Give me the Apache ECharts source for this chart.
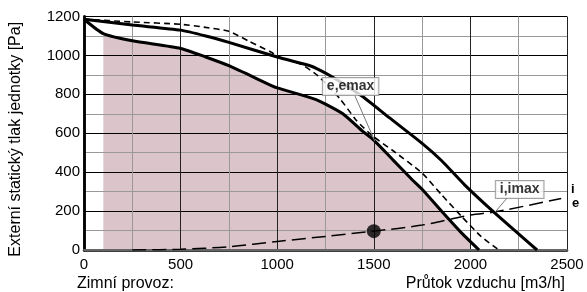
<!DOCTYPE html>
<html>
<head>
<meta charset="utf-8">
<script src="https://cdn.jsdelivr.net/npm/echarts@6/dist/echarts.min.js"></script>
<style>
  html, body { margin: 0; padding: 0; background: #fff; }
  #chart { width: 587px; height: 292px; }
</style>
</head>
<body>
<div id="chart"></div>
<script>
// osa x: prutok [m3/h], osa y: tlak [Pa]
var xTicks = [0, 500, 1000, 1500, 2000, 2500];
var yTicks = [0, 200, 400, 600, 800, 1000, 1200];

// spodni plna krivka (hranice oblasti)
var curveLow = [[0,1186],[100,1112],[250,1075],[500,1036],[630,992],[750,947],[970,845],[1000,833],
  [1190,777],[1250,750],[1340,700],[1440,612],[1500,565],[1600,462],[1700,360],[1750,312],
  [1850,200],[1950,92],[2045,0]];
// horni plna krivka
var curveHigh = [[0,1186],[250,1156],[500,1130],[630,1100],[750,1067],[1000,992],[1170,947],
  [1210,930],[1290,887],[1440,790],[1580,680],[1750,548],[1850,460],[1970,335],[2120,196],[2345,0]];
// carkovana krivka
var curveDash = [[0,1186],[250,1172],[500,1160],[630,1144],[750,1124],[850,1075],[970,1016],
  [1000,995],[1120,956],[1210,896],[1325,777],[1410,666],[1495,585],[1600,510],[1750,395],
  [1850,285],[1955,172],[2055,70],[2148,0]];
// vystinovana oblast
var areaPts = [[100,1112],[250,1075],[500,1036],[630,992],[750,947],[970,845],[1000,833],
  [1190,777],[1250,750],[1340,700],[1440,612],[1500,565],[1600,462],[1700,360],[1750,312],
  [1850,200],[1950,92],[2000,47],[2000,0]];
// charakteristika site
var systemCurve = [[250,0],[500,4],[750,17],[1000,44],[1250,70],[1500,97],[1750,128],
  [2000,180],[2130,196],[2470,265]];
var workPoint = [[1500,97]];

var labelE = { text: 'e,emax', pos: [1380, 840], lead: [[1403,791],[1505,560]] };
var labelI = { text: 'i,imax', pos: [2255, 311], lead: [[2194,272],[2128,195]] };

var font = 'Liberation Sans, Arial, sans-serif';
var chart = echarts.init(document.getElementById('chart'));

function boxLabel(l) {
  return {
    type: 'scatter', data: [l.pos], symbolSize: 0, z: 6, silent: true,
    label: {
      show: true, position: 'inside', formatter: l.text,
      fontFamily: font, fontSize: 14, fontWeight: 'bold', color: '#000',
      backgroundColor: '#fff', borderColor: '#888', borderWidth: 1,
      padding: [2, 4, 1, 4]
    }
  };
}
function leader(l) {
  return {
    type: 'line', data: l.lead, symbol: 'none', z: 5, silent: true,
    lineStyle: { color: '#777', width: 1 }
  };
}
function plain(v) { return String(v); }

var option = {
  animation: false,
  backgroundColor: '#fff',
  grid: { left: 76.5, right: 20, top: 16.5, bottom: 42 },
  xAxis: [{
    type: 'value', min: 0, max: 2500, interval: 500, z: 1,
    axisLine: { lineStyle: { color: '#000', width: 2.5 } },
    axisTick: { show: false },
    axisLabel: { fontFamily: font, fontSize: 15, color: '#000', margin: 7, formatter: plain },
    splitLine: { lineStyle: { color: '#222', width: 1 } },
    minorTick: { show: false, splitNumber: 2 },
    minorSplitLine: { show: true, lineStyle: { color: '#999', width: 1 } }
  }, {
    type: 'value', position: 'top', min: 0, max: 2500, interval: 500, z: 1,
    axisLine: { show: true, lineStyle: { color: '#666', width: 2 } },
    axisTick: { show: false }, axisLabel: { show: false }, splitLine: { show: false }
  }],
  yAxis: [{
    type: 'value', min: 0, max: 1200, interval: 200, z: 1,
    name: 'Externí statický tlak jednotky [Pa]', nameLocation: 'middle', nameGap: 60,
    nameTextStyle: { fontFamily: font, fontSize: 16, color: '#000', padding: [0, 12, 0, 0] },
    axisLine: { show: true, lineStyle: { color: '#000', width: 2.5 } },
    axisTick: { show: false },
    axisLabel: { fontFamily: font, fontSize: 15, color: '#000', margin: 4, formatter: plain },
    splitLine: { lineStyle: { color: '#000', width: 1 } },
    minorTick: { show: false, splitNumber: 2 },
    minorSplitLine: { show: true, lineStyle: { color: '#999', width: 1 } }
  }, {
    type: 'value', position: 'right', min: 0, max: 1200, interval: 200, z: 1,
    axisLine: { show: true, lineStyle: { color: '#000', width: 2.5 } },
    axisTick: { show: false }, axisLabel: { show: false }, splitLine: { show: false }
  }],
  series: [
    {
      type: 'line', data: areaPts, symbol: 'none', z: 0, silent: true,
      lineStyle: { width: 0 },
      areaStyle: { color: '#dbc5ca', opacity: 1 }
    },
    {
      type: 'line', data: systemCurve, symbol: 'none', smooth: 0.3, z: 3,
      lineStyle: { color: '#000', width: 1.5, type: [14, 6] }
    },
    {
      type: 'line', data: curveDash, symbol: 'none', smooth: 0.2, z: 3,
      lineStyle: { color: '#000', width: 1.6, type: [6, 4] }
    },
    {
      type: 'line', data: curveHigh, symbol: 'none', smooth: 0.2, z: 4,
      lineStyle: { color: '#000', width: 3 }
    },
    {
      type: 'line', data: curveLow, symbol: 'none', smooth: 0.2, z: 4,
      lineStyle: { color: '#000', width: 3 }
    },
    {
      type: 'scatter', data: workPoint, symbol: 'circle', symbolSize: 14, z: 7,
      itemStyle: { color: '#000' }
    },
    leader(labelE), leader(labelI),
    boxLabel(labelE), boxLabel(labelI)
  ],
  graphic: [
    { type: 'text', left: 77, top: 276, style: { text: 'Zimní provoz:', font: '16px ' + font, fill: '#000' } },
    { type: 'text', right: 22, top: 276, style: { text: 'Průtok vzduchu [m3/h]', font: '16px ' + font, fill: '#000' } },
    { type: 'text', left: 571, top: 183, style: { text: 'i', font: 'bold 13px ' + font, fill: '#000' } },
    { type: 'text', left: 572, top: 197, style: { text: 'e', font: 'bold 13px ' + font, fill: '#000' } }
  ]
};

chart.setOption(option);
</script>
</body>
</html>
